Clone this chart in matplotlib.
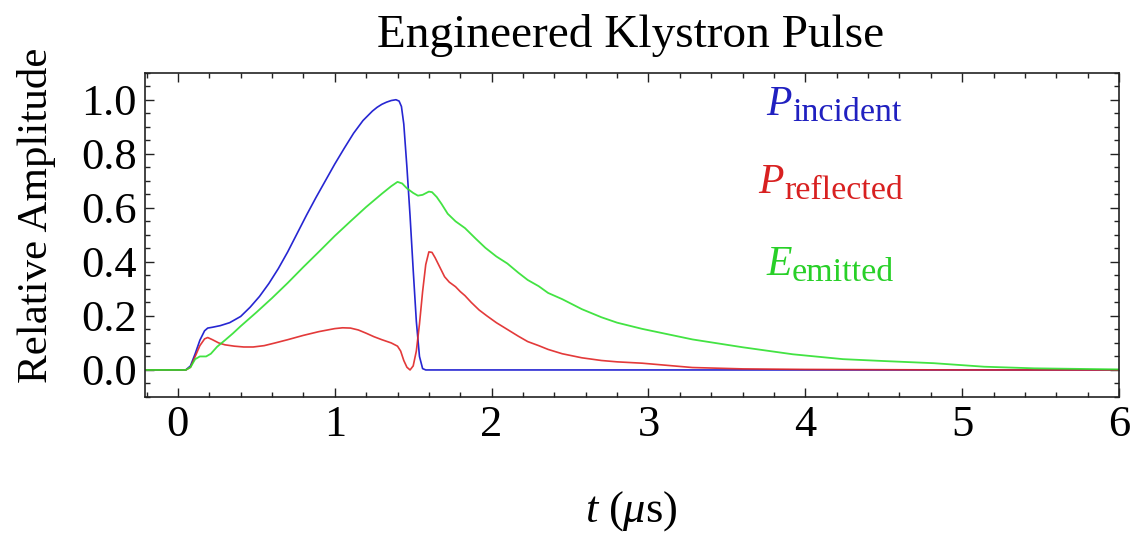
import matplotlib
matplotlib.use("Agg")
import matplotlib.pyplot as plt
from matplotlib.ticker import MultipleLocator, FormatStrFormatter

plt.rcParams['font.family'] = ['Liberation Serif', 'DejaVu Serif']
plt.rcParams['mathtext.fontset'] = 'custom'
plt.rcParams['mathtext.rm'] = 'Liberation Serif'
plt.rcParams['mathtext.it'] = 'Liberation Serif:italic'

# P_incident (blue)
t_inc = [-0.21, 0.0, 0.05, 0.08, 0.11, 0.14, 0.17, 0.19, 0.22, 0.27, 0.33, 0.40,
         0.46, 0.52, 0.58, 0.64, 0.70, 0.76, 0.82, 0.88, 0.94, 1.00, 1.06, 1.12,
         1.18, 1.24, 1.27, 1.30, 1.33, 1.36, 1.39, 1.41, 1.425, 1.44, 1.46, 1.48,
         1.50, 1.52, 1.54, 1.56, 1.58, 6.0]
p_inc = [0.0, 0.0, 0.0, 0.015, 0.06, 0.11, 0.145, 0.155, 0.158, 0.164, 0.175, 0.198,
         0.232, 0.272, 0.32, 0.375, 0.437, 0.505, 0.573, 0.638, 0.70, 0.762, 0.82, 0.876,
         0.923, 0.958, 0.972, 0.983, 0.991, 0.997, 1.0, 0.995, 0.975, 0.91, 0.75, 0.57,
         0.37, 0.18, 0.05, 0.005, 0.0, 0.0]

# P_reflected (red)
t_ref = [-0.21, 0.0, 0.05, 0.08, 0.11, 0.14, 0.17, 0.19, 0.22, 0.26, 0.30, 0.36,
         0.42, 0.48, 0.55, 0.62, 0.70, 0.80, 0.90, 1.00, 1.05, 1.10, 1.15, 1.20,
         1.25, 1.30, 1.36, 1.40, 1.42, 1.44, 1.46, 1.48, 1.50, 1.52, 1.54, 1.56,
         1.58, 1.60, 1.62, 1.64, 1.67, 1.70, 1.73, 1.77, 1.80, 1.83, 1.87, 1.92,
         1.97, 2.03, 2.10, 2.17, 2.23, 2.30, 2.36, 2.45, 2.575, 2.70, 2.80, 2.96,
         3.28, 3.6, 4.0, 4.5, 5.0, 6.0]
p_ref = [0.0, 0.0, 0.0, 0.01, 0.05, 0.09, 0.115, 0.12, 0.112, 0.10, 0.093, 0.088,
         0.085, 0.085, 0.09, 0.10, 0.112, 0.128, 0.142, 0.153, 0.156, 0.155, 0.148, 0.136,
         0.123, 0.112, 0.10, 0.088, 0.07, 0.035, 0.01, 0.0, 0.015, 0.07, 0.17, 0.29,
         0.39, 0.437, 0.435, 0.415, 0.38, 0.345, 0.325, 0.308, 0.29, 0.275, 0.25, 0.222,
         0.20, 0.175, 0.15, 0.125, 0.105, 0.09, 0.076, 0.06, 0.045, 0.035, 0.03, 0.025,
         0.009, 0.004, 0.002, 0.001, 0.0, 0.0]

# E_emitted (green)
t_emi = [-0.21, 0.0, 0.05, 0.08, 0.11, 0.14, 0.18, 0.21, 0.25, 0.30, 0.35, 0.40,
         0.50, 0.60, 0.70, 0.80, 0.90, 1.00, 1.10, 1.20, 1.30, 1.36, 1.40, 1.43,
         1.46, 1.50, 1.53, 1.56, 1.60, 1.62, 1.65, 1.68, 1.72, 1.77, 1.83, 1.90,
         1.96, 2.03, 2.10, 2.17, 2.23, 2.30, 2.36, 2.45, 2.575, 2.70, 2.80, 2.96,
         3.28, 3.60, 3.92, 4.24, 4.50, 4.82, 5.14, 5.46, 6.0]
e_emi = [0.0, 0.0, 0.0, 0.01, 0.04, 0.05, 0.05, 0.06, 0.086, 0.11, 0.135, 0.162,
         0.213, 0.266, 0.322, 0.381, 0.438, 0.496, 0.55, 0.603, 0.652, 0.68, 0.696, 0.69,
         0.672, 0.655, 0.645, 0.648, 0.66, 0.658, 0.64, 0.615, 0.578, 0.55, 0.525, 0.485,
         0.452, 0.42, 0.394, 0.36, 0.333, 0.31, 0.285, 0.262, 0.225, 0.195, 0.175, 0.152,
         0.113, 0.084, 0.058, 0.040, 0.033, 0.025, 0.012, 0.006, 0.002]

# legend labels: symbol, subscript, colour
labels = [('P', 'incident', '#2020c0'),
          ('P', 'reflected', '#d82020'),
          ('E', 'emitted', '#28d028')]

blue = '#2626d2'
red = '#e02424'
green = '#2ee02e'

fig = plt.figure(figsize=(11.3, 5.33), dpi=100)
ax = fig.add_axes([0.1283, 0.2552, 0.862, 0.6084])

ax.plot(t_inc, p_inc, color=blue, lw=1.2)
ax.plot(t_ref, p_ref, color=red, lw=1.2, alpha=0.9)
ax.plot(t_emi, e_emi, color=green, lw=1.3, alpha=0.9)

ax.set_xlim(-0.21, 6.0)
ax.set_ylim(-0.1, 1.1)
ax.xaxis.set_major_locator(MultipleLocator(1))
ax.xaxis.set_minor_locator(MultipleLocator(0.2))
ax.yaxis.set_major_locator(MultipleLocator(0.2))
ax.yaxis.set_minor_locator(MultipleLocator(0.05))
ax.yaxis.set_major_formatter(FormatStrFormatter('%.1f'))
ax.tick_params(which='both', direction='in', top=True, right=True,
               labelsize=32, width=1.0, color='#222222')
ax.tick_params(which='major', length=6.5, pad=6)
ax.tick_params(which='minor', length=3.6)
for s in ax.spines.values():
    s.set_linewidth(1.2)
    s.set_color('#222222')

# hand-placed labels (symbol + subscript) like the original
sym_x = [3.75, 3.70, 3.75]
sub_x = [3.915, 3.865, 3.915]
sym_y = [0.942, 0.654, 0.351]
for (sym, sub, col), sx, bx, sy in zip(labels, sym_x, sub_x, sym_y):
    ax.text(sx, sy, sym, color=col, fontsize=30, style='italic',
            ha='left', va='baseline')
    ax.text(bx, sy - 0.022, sub, color=col, fontsize=24.5,
            ha='left', va='baseline')

fig.text(0.558, 1 - 47 / 533, 'Engineered Klystron Pulse', fontsize=34,
         ha='center', va='baseline')
fig.text(37 / 1130, 1 - 215 / 533, 'Relative Amplitude', fontsize=31,
         rotation=90, ha='center', va='center')
fig.text(0.559, 1 - 522 / 533, r'$t\ (\mu\mathrm{s})$', fontsize=32,
         ha='center', va='baseline')

fig.savefig('out.png', dpi=100)
